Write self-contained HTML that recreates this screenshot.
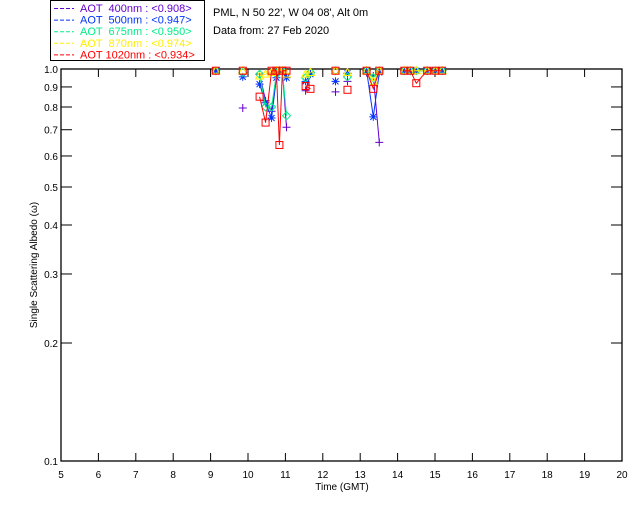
<!DOCTYPE html>
<html><head><meta charset="utf-8"><style>
body{margin:0;background:#fff;}
svg{display:block;font-family:"Liberation Sans",sans-serif;}
text{white-space:pre;}
</style></head><body>
<svg id="chart" width="640" height="512" viewBox="0 0 640 512">
<g>
<rect x="50.5" y="0.5" width="154" height="60" fill="#fff" stroke="#000"/>
</g>
<text x="213" y="16" font-size="11">PML, N 50 22', W 04 08', Alt 0m</text>
<text x="213" y="34" font-size="11">Data from: 27 Feb 2020</text>
<text transform="translate(37,265) rotate(-90)" text-anchor="middle" font-size="10">Single Scattering Albedo (ω)</text>
<text x="342" y="490" text-anchor="middle" font-size="10">Time (GMT)</text>
<g id="axes"></g>
<g id="series"></g>
</svg>
<script>
const xTicks=[5,6,7,8,9,10,11,12,13,14,15,16,17,18,19,20];
const yTicks=[1.0,0.9,0.8,0.7,0.6,0.5,0.4,0.3,0.2,0.1];
const yTickLabels=["1.0","0.9","0.8","0.7","0.6","0.5","0.4","0.3","0.2","0.1"];
const seriesNames=["AOT  400nm","AOT  500nm","AOT  675nm","AOT  870nm","AOT 1020nm"];
const seriesMeans=["<0.908>","<0.947>","<0.950>","<0.974>","<0.934>"];
const times=[9.14,9.86,10.31,10.47,10.63,10.76,10.84,10.92,11.03,11.54,11.67,12.34,12.66,13.17,13.35,13.51,14.18,14.34,14.50,14.79,15.01,15.19];
const v400=[0.99,0.795,0.97,0.83,0.78,0.97,0.99,0.99,0.71,0.88,0.97,0.874,0.93,0.98,0.96,0.65,0.99,0.99,0.99,0.99,0.99,0.99];
const v500=[0.99,0.955,0.915,0.82,0.75,0.95,0.99,0.99,0.95,0.93,0.97,0.93,0.975,0.99,0.755,0.98,0.99,0.99,0.99,0.99,0.99,0.99];
const v675=[0.99,0.98,0.97,0.8,0.8,0.97,0.99,0.99,0.76,0.95,0.98,0.99,0.955,0.99,0.95,0.99,0.99,0.99,0.99,0.99,0.99,0.99];
const v870=[0.99,0.99,0.96,0.97,0.98,0.99,0.99,0.99,0.97,0.97,0.98,0.99,0.98,0.99,0.93,0.99,0.99,0.99,0.99,0.99,0.99,0.99];
const v1020=[0.99,0.99,0.85,0.73,0.99,0.99,0.64,0.99,0.99,0.905,0.89,0.99,0.885,0.99,0.89,0.99,0.99,0.99,0.92,0.99,0.99,0.99];
const seriesValues=[v400,v500,v675,v870,v1020];
const colors=["#6600cc","#0033ff","#00ee88","#ffee00","#ff0000"];
const markers=["plus","star","diamond","triangle","square"];

const X0=61,X1=622,Y0=461,Y1=69;
const xs=t=>X0+(t-5)/15*(X1-X0);
const ys=v=>Y0-(Math.log10(v)+1)*(Y0-Y1);
const NS="http://www.w3.org/2000/svg";
function mk(tag,attrs,parent){const e=document.createElementNS(NS,tag);for(const k in attrs)e.setAttribute(k,attrs[k]);parent.appendChild(e);return e;}
const svg=document.getElementById('chart');
const axes=document.getElementById('axes');
const ser=document.getElementById('series');

seriesNames.forEach((n,i)=>{
  const y=12+i*11.6;
  const l=mk('line',{x1:54,x2:74,y1:y-3.5,y2:y-3.5,stroke:colors[i],'stroke-dasharray':'4,2'},svg);
  
  
  const t=mk('text',{x:80,y:y,'font-size':'11',fill:colors[i]},svg);
  t.textContent=n+" : "+seriesMeans[i];
  
  
});

const frame=mk('rect',{x:X0,y:Y1,width:X1-X0,height:Y0-Y1,fill:'none',stroke:'#000','stroke-width':1.3},axes);


xTicks.forEach(t=>{
  const x=xs(t);
  mk('line',{x1:x,x2:x,y1:Y0,y2:Y0-8,stroke:'#000'},axes);
  mk('line',{x1:x,x2:x,y1:Y1,y2:Y1+8,stroke:'#000'},axes);
  const tx=mk('text',{x:x,y:Y0+17,'font-size':'10','text-anchor':'middle'},axes);
  tx.textContent=t;
  
  
});
yTicks.forEach((v,i)=>{
  const y=ys(v);
  mk('line',{x1:X0,x2:X0+11,y1:y,y2:y,stroke:'#000'},axes);
  mk('line',{x1:X1,x2:X1-11,y1:y,y2:y,stroke:'#000'},axes);
  const tx=mk('text',{x:X0-3,y:y+4,'font-size':'10','text-anchor':'end'},axes);
  tx.textContent=yTickLabels[i];
  
  
});

function marker(kind,x,y,c,g){
  let e;
  if(kind==='plus'){e=mk('path',{d:`M${x-4} ${y}H${x+4}M${x} ${y-4}V${y+4}`,stroke:c,fill:'none'},g);}
  else if(kind==='star'){e=mk('path',{d:`M${x-4} ${y}H${x+4}M${x} ${y-4}V${y+4}M${x-3} ${y-3}L${x+3} ${y+3}M${x-3} ${y+3}L${x+3} ${y-3}`,stroke:c,fill:'none'},g);}
  else if(kind==='diamond'){e=mk('path',{d:`M${x} ${y-4}L${x+4} ${y}L${x} ${y+4}L${x-4} ${y}Z`,stroke:c,fill:'none'},g);}
  else if(kind==='triangle'){e=mk('path',{d:`M${x} ${y-4}L${x+4} ${y+3}L${x-4} ${y+3}Z`,stroke:c,fill:'none'},g);}
  else {e=mk('rect',{x:x-3.5,y:y-3.5,width:7,height:7,stroke:c,fill:'none'},g);}
  
  
}
seriesValues.forEach((vals,si)=>{
  const g=mk('g',{},ser);
  
  
  let d='';
  for(let i=0;i<times.length;i++){
    const x=xs(times[i]),y=ys(vals[i]);
    const brk=i===0||times[i]-times[i-1]>0.3;
    d+=(brk?'M':'L')+x.toFixed(1)+' '+y.toFixed(1);
  }
  const p=mk('path',{d:d,stroke:colors[si],fill:'none','stroke-width':1},g);
  
  
  for(let i=0;i<times.length;i++) marker(markers[si],xs(times[i]),ys(vals[i]),colors[si],g);
});
</script>
</body></html>
